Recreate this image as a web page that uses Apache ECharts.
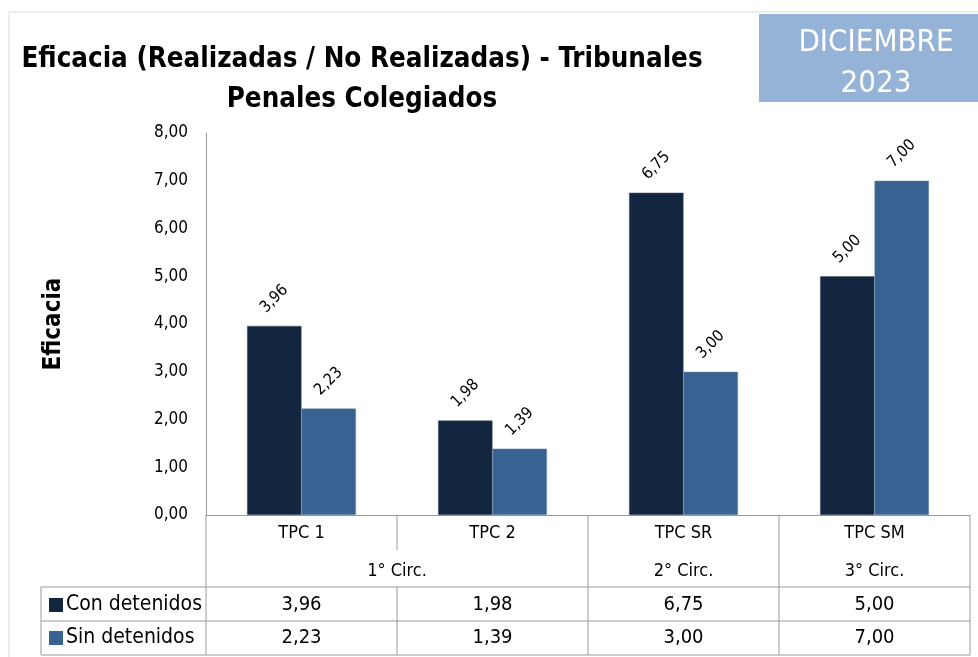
<!DOCTYPE html>
<html>
<head>
<meta charset="utf-8">
<script src="https://cdn.jsdelivr.net/npm/echarts@6/dist/echarts.min.js"></script>
<style>
  html, body { margin: 0; padding: 0; background: #fff; }
  #main { width: 978px; height: 657px; }
</style>
</head>
<body>
<div id="main"></div>
<script>
// datos del gráfico
const categories = ['TPC 1', 'TPC 2', 'TPC SR', 'TPC SM'];
const groups = [
  { label: '1° Circ.', span: 2 },
  { label: '2° Circ.', span: 1 },
  { label: '3° Circ.', span: 1 }
];
const conDetenidos = [3.96, 1.98, 6.75, 5.00];
const sinDetenidos = [2.23, 1.39, 3.00, 7.00];
const seriesNames = ['Con detenidos', 'Sin detenidos'];
const colors = ['#13263F', '#386292'];

const FONT = "'Liberation Sans Narrow', 'DejaVu Sans Condensed', sans-serif";
const fmt = v => v.toFixed(2).replace('.', ',');

const grid = { left: 206, right: 8, top: 133, bottom: 142 };
const W = 978, H = 657;
const lineColor = '#9a9a9a';

const chart = echarts.init(document.getElementById('main'));

const barLabel = {
  show: true,
  position: 'top',
  distance: 27,
  rotate: 45,
  align: 'center',
  verticalAlign: 'middle',
  fontFamily: FONT,
  fontSize: 16,
  color: '#000',
  formatter: p => fmt(p.value)
};

chart.setOption({
  animation: false,
  textStyle: { fontFamily: FONT },
  grid: grid,
  xAxis: {
    type: 'category',
    data: categories,
    axisLine: { lineStyle: { color: lineColor } },
    axisTick: { show: false },
    axisLabel: { color: '#000', fontSize: 18, margin: 9, fontFamily: FONT }
  },
  yAxis: {
    type: 'value',
    min: 0,
    max: 8,
    interval: 1,
    name: 'Eficacia',
    nameLocation: 'middle',
    nameGap: 140,
    nameRotate: 90,
    nameTextStyle: { fontSize: 24, fontWeight: 'bold', color: '#000', fontFamily: FONT },
    splitLine: { show: false },
    axisLine: { show: true, lineStyle: { color: lineColor } },
    axisTick: { show: false },
    axisLabel: { color: '#000', fontSize: 17, margin: 18, formatter: fmt, fontFamily: FONT }
  },
  series: [
    {
      name: seriesNames[0],
      type: 'bar',
      data: conDetenidos,
      barGap: '0%',
      barCategoryGap: '43%',
      itemStyle: { color: colors[0], borderColor: '#4b5d78', borderWidth: 0.5 },
      label: barLabel
    },
    {
      name: seriesNames[1],
      type: 'bar',
      data: sinDetenidos,
      itemStyle: { color: colors[1], borderColor: '#6f8db3', borderWidth: 0.5 },
      label: barLabel
    }
  ]
});

// tabla de datos debajo del eje
const x0 = grid.left;
const x1 = W - grid.right;
const colW = (x1 - x0) / categories.length;
const yAxisPos = H - grid.bottom;   // 515
const yRow1 = 587, yRow2 = 621, yRow3 = 655;
const legendLeft = 41;

const els = [];
const line = (xa, ya, xb, yb) => els.push({
  type: 'line', shape: { x1: xa, y1: ya, x2: xb, y2: yb },
  style: { stroke: lineColor, lineWidth: 1 }
});
const text = (t, x, y, opt) => els.push(Object.assign({
  type: 'text', x: x, y: y,
  style: Object.assign({ text: t, fill: '#000', fontSize: 18, fontFamily: FONT, align: 'center', verticalAlign: 'middle' }, opt || {})
}));

// marco exterior
els.push({ type: 'rect', shape: { x: 9, y: 12, width: W, height: H }, style: { fill: null, stroke: '#d9d9d9', lineWidth: 1 }, z: -1 });

// líneas verticales de la zona de categorías
for (let i = 0; i <= categories.length; i++) {
  const x = x0 + i * colW;
  // dentro de un grupo la línea sólo baja hasta la mitad de la fila
  let inside = false;
  let c = 0;
  groups.forEach(g => { if (i > c && i < c + g.span) inside = true; c += g.span; });
  line(x, yAxisPos, x, inside ? 550 : yRow3);
  if (inside) line(x, yRow1, x, yRow3);
}
line(legendLeft, yRow1, x1, yRow1);
line(legendLeft, yRow2, x1, yRow2);
line(legendLeft, yRow3, x1, yRow3);
line(legendLeft, yRow1, legendLeft, yRow3);

// etiquetas de grupo
let col = 0;
groups.forEach(g => {
  text(g.label, x0 + (col + g.span / 2) * colW, 571);
  col += g.span;
});

// filas de leyenda + valores
[conDetenidos, sinDetenidos].forEach((arr, r) => {
  const yc = r === 0 ? (yRow1 + yRow2) / 2 + 1 : (yRow2 + yRow3) / 2;
  els.push({ type: 'rect', shape: { x: 49, y: yc - 7, width: 14, height: 14 }, style: { fill: colors[r] } });
  text(seriesNames[r], 66, yc, { align: 'left', fontSize: 21 });
  arr.forEach((v, i) => text(fmt(v), x0 + (i + 0.5) * colW, yc, { fontSize: 20 }));
});

// título y recuadro de fecha
text('Eficacia (Realizadas / No Realizadas) - Tribunales', 362, 60, { fontSize: 27.5, fontWeight: 'bold' });
text('Penales Colegiados', 362, 100, { fontSize: 27.5, fontWeight: 'bold' });
els.push({ type: 'rect', shape: { x: 759, y: 14, width: 219, height: 88 }, style: { fill: '#95B3D7' } });
text('DICIEMBRE', 876, 43, { fontSize: 31, fill: '#fff' });
text('2023', 876, 84, { fontSize: 31, fill: '#fff' });

chart.setOption({ graphic: { elements: els } });
</script>
</body>
</html>
